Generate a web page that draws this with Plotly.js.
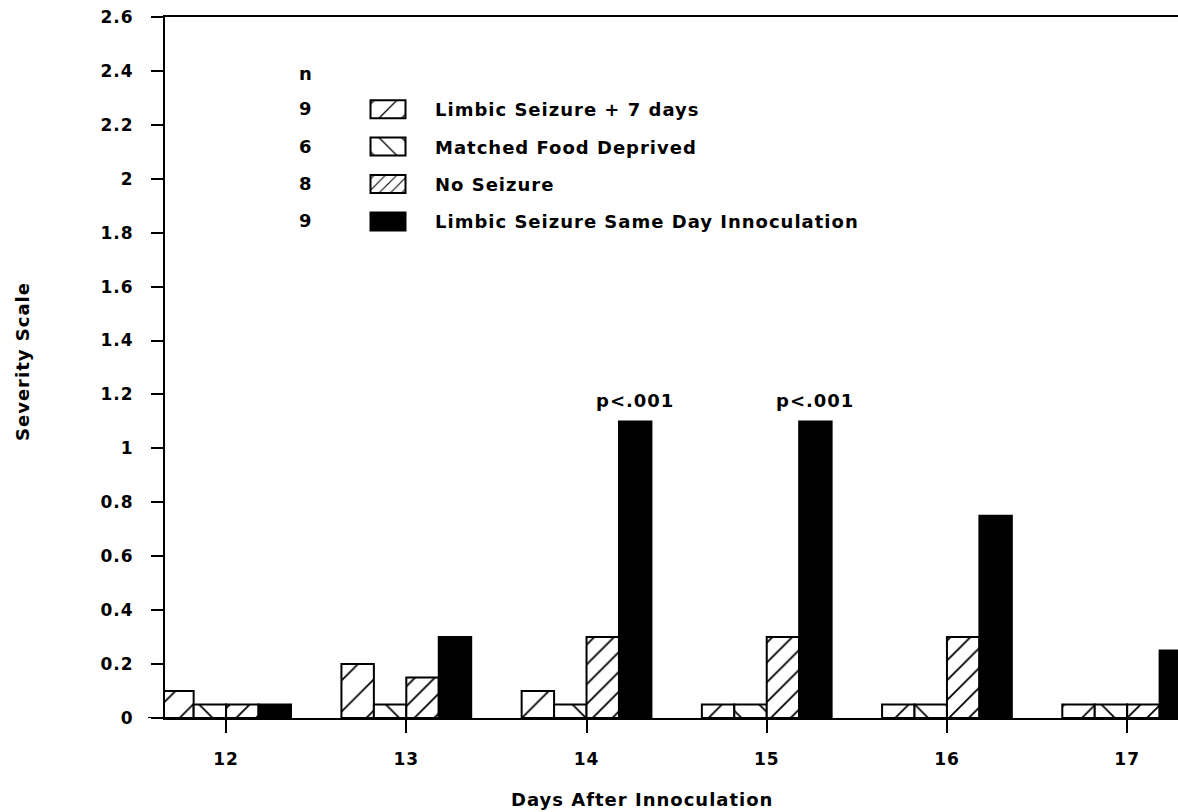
<!DOCTYPE html>
<html><head><meta charset="utf-8">
<script src="https://cdn.plot.ly/plotly-3.0.1.min.js"></script>
<style>
html,body{margin:0;padding:0;background:#fff;}
#chart{width:1178px;height:812px;}
text{letter-spacing:1px;}
#chart .legendpoints path{transform:translate(47px,0);d:path('M17.5,9H-17.5V-9H17.5Z');}
#chart .legend .groups:nth-child(1) .legendpoints path,
#chart .legend .groups:nth-child(2) .legendpoints path{transform:translate(47px,0) scale(2);d:path('M8.75,4.5H-8.75V-4.5H8.75Z');vector-effect:non-scaling-stroke;}
</style></head><body><div id="chart"></div>
<script>
const days = [12, 13, 14, 15, 16, 17];
const seriesNames = ['Limbic Seizure + 7 days', 'Matched Food Deprived', 'No Seizure', 'Limbic Seizure Same Day Innoculation'];
const nCounts = [9, 6, 8, 9];
const limbic7 = [0.1, 0.2, 0.1, 0.05, 0.05, 0.05];
const foodDeprived = [0.05, 0.05, 0.05, 0.05, 0.05, 0.05];
const noSeizure = [0.05, 0.15, 0.3, 0.3, 0.3, 0.05];
const limbicSameDay = [0.05, 0.3, 1.1, 1.1, 0.75, 0.25];
const pLabels = ['', '', 'p<.001', 'p<.001', '', ''];
const yTicks = [0, 0.2, 0.4, 0.6, 0.8, 1, 1.2, 1.4, 1.6, 1.8, 2, 2.2, 2.4, 2.6];

const FONT = {family: 'DejaVu Sans', size: 18, color: 'black', weight: 'bold'};
const TICKFONT = {family: 'DejaVu Sans', size: 17, color: 'black', weight: 'bold'};
const bargap = 0.28;
const groupW = 1 - bargap, barW = groupW / 4;
const lastBarOffset = -groupW / 2 + barW * 3.5;

const values = [limbic7, foodDeprived, noSeizure, limbicSameDay];
const patterns = [
  {shape: '/', size: 22, solidity: 0.08, fgcolor: 'black', bgcolor: 'white'},
  {shape: '\\', size: 22, solidity: 0.08, fgcolor: 'black', bgcolor: 'white'},
  {shape: '/', size: 14, solidity: 0.13, fgcolor: 'black', bgcolor: 'white'},
  null
];

const traces = values.map((v, k) => {
  const t = {
    type: 'bar', x: days, y: v, name: seriesNames[k], legendgroup: 'g' + k,
    marker: {color: k === 3 ? 'black' : 'white', line: {color: 'black', width: 2}},
    hoverinfo: 'skip'
  };
  if (patterns[k]) t.marker.pattern = patterns[k];
  return t;
});

// plot area geometry (px) used for placing text annotations
const H = 812, T = 17, B = 94, L = 165, W = 1178 - L;
const plotH = H - T - B;
const py = px => (H - B - px) / plotH;
const pxX = px => (px - L) / W;

const annotations = [];
days.forEach((d, i) => {
  if (pLabels[i]) annotations.push({
    x: d + lastBarOffset, y: limbicSameDay[i], xref: 'x', yref: 'y', text: pLabels[i],
    showarrow: false, xanchor: 'center', yanchor: 'bottom', yshift: 8, font: FONT
  });
});
const txt = (xp, yp, text, extra) => Object.assign({
  x: pxX(xp), y: py(yp), xref: 'paper', yref: 'paper', text: text, showarrow: false,
  xanchor: 'center', yanchor: 'middle', font: FONT
}, extra || {});
annotations.push(txt(306, 73, 'n'));
const rowY0 = 109, rowStep = 37.2;
nCounts.forEach((n, k) => annotations.push(txt(306, rowY0 + k * rowStep, String(n))));
annotations.push(txt(642, 800, 'Days After Innoculation'));
annotations.push(txt(22, 362, 'Severity Scale', {textangle: -90}));

const layout = {
  width: 1178, height: 812,
  margin: {l: L, r: 0, t: T, b: B},
  paper_bgcolor: 'white', plot_bgcolor: 'white',
  font: FONT,
  barmode: 'group', bargap: bargap, bargroupgap: 0,
  showlegend: true,
  legend: {x: pxX(341), y: py(91), xanchor: 'left', yanchor: 'top', itemwidth: 84, tracegroupgap: 11,
           font: FONT, bgcolor: 'rgba(0,0,0,0)', borderwidth: 0},
  xaxis: {
    range: [11.661, 17.282], tickmode: 'array', tickvals: days, ticktext: days.map(String),
    showline: true, linecolor: 'black', linewidth: 2, mirror: true,
    ticks: 'outside', ticklen: 13, tickwidth: 2, tickcolor: 'black', ticklabelstandoff: 12,
    showgrid: false, zeroline: false, tickfont: TICKFONT
  },
  yaxis: {
    range: [0, 2.6], tickmode: 'array', tickvals: yTicks,
    showline: true, linecolor: 'black', linewidth: 2,
    ticks: 'outside', ticklen: 12, tickwidth: 2, tickcolor: 'black', ticklabelstandoff: 14,
    showgrid: false, zeroline: false, tickfont: TICKFONT
  },
  shapes: [{type: 'line', xref: 'paper', yref: 'y', x0: pxX(148), x1: 0, y0: 0, y1: 0, line: {color: 'black', width: 2}}],
  annotations: annotations
};

Plotly.newPlot('chart', traces, layout, {displayModeBar: false, staticPlot: true});
</script></body></html>
